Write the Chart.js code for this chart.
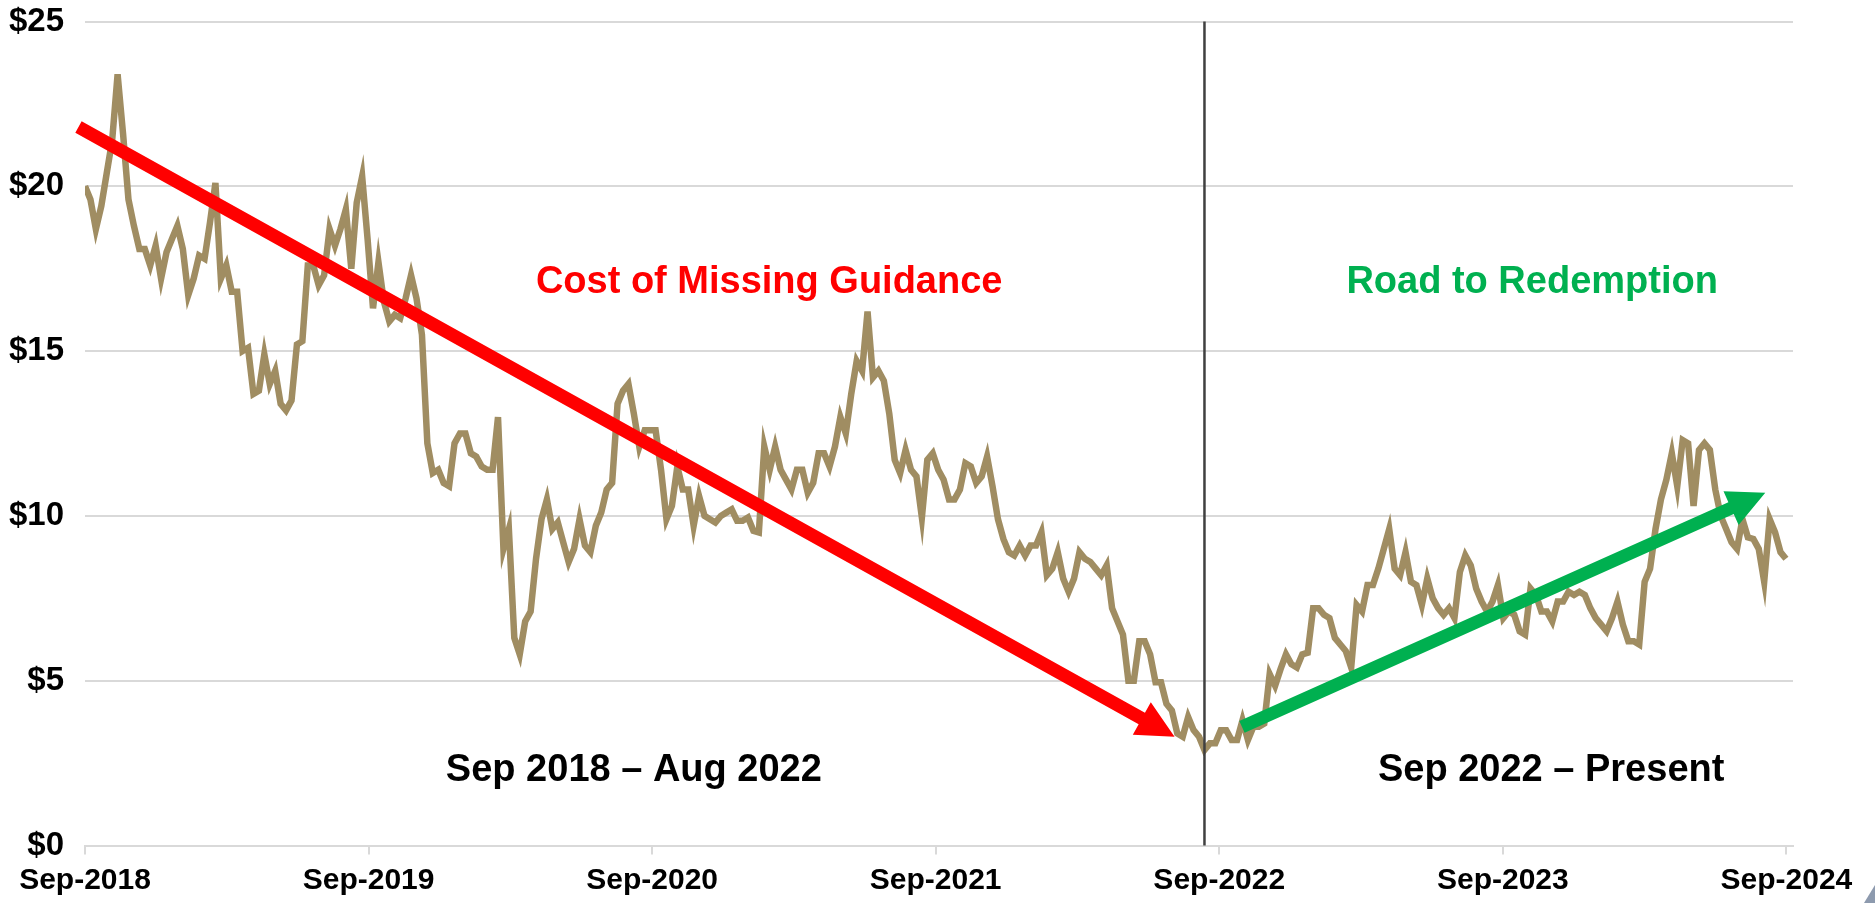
<!DOCTYPE html>
<html>
<head>
<meta charset="utf-8">
<title>Share price</title>
<script src="https://cdn.jsdelivr.net/npm/chart.js@4"></script>
<style>
  html, body { margin: 0; padding: 0; background: #fff; }
  #wrap { width: 1875px; height: 903px; }
</style>
</head>
<body>
<div id="wrap"><canvas id="priceChart" width="1875" height="903"></canvas></div>
<script>
// weekly share price, one value per week from Sep-2018 to Sep-2024
const prices = [
  20.0, 19.6, 18.7, 19.4, 20.4, 21.4, 23.4, 21.6, 19.6, 18.8,
  18.1, 18.1, 17.6, 18.2, 17.2, 18.0, 18.4, 18.8, 18.1, 16.7,
  17.2, 17.9, 17.8, 18.9, 20.1, 17.2, 17.6, 16.8, 16.8, 15.0,
  15.1, 13.7, 13.8, 14.9, 14.0, 14.4, 13.4, 13.2, 13.5, 15.2,
  15.3, 17.6, 17.6, 17.0, 17.3, 18.7, 18.2, 18.7, 19.3, 17.5,
  19.5, 20.3, 18.4, 16.3, 17.7, 16.5, 15.9, 16.1, 16.0, 16.6,
  17.3, 16.6, 15.5, 12.2, 11.3, 11.4, 11.0, 10.9, 12.2, 12.5,
  12.5, 11.9, 11.8, 11.5, 11.4, 11.4, 13.0, 9.0, 9.6, 6.3,
  5.8, 6.8, 7.1, 8.7, 9.9, 10.5, 9.6, 9.8, 9.2, 8.6,
  9.0, 9.9, 9.1, 8.9, 9.7, 10.1, 10.8, 11.0, 13.4, 13.8,
  14.0, 13.1, 12.1, 12.6, 12.6, 12.6, 11.4, 9.9, 10.3, 11.5,
  10.8, 10.8, 9.7, 10.6, 10.0, 9.9, 9.8, 10.0, 10.1, 10.2,
  9.85, 9.85, 9.95, 9.55, 9.5, 12.1, 11.4, 12.1, 11.4, 11.1,
  10.8, 11.4, 11.4, 10.7, 11.0, 11.9, 11.9, 11.5, 12.1, 13.0,
  12.5, 13.7, 14.7, 14.4, 16.2, 14.2, 14.4, 14.1, 13.1, 11.7,
  11.3, 12.0, 11.4, 11.2, 9.95, 11.7, 11.9, 11.4, 11.1, 10.5,
  10.5, 10.8, 11.6, 11.5, 11.0, 11.2, 11.8, 10.9, 9.9, 9.3,
  8.9, 8.8, 9.1, 8.8, 9.1, 9.1, 9.5, 8.2, 8.4, 8.9,
  8.1, 7.7, 8.1, 8.9, 8.7, 8.6, 8.4, 8.2, 8.5, 7.2,
  6.8, 6.4, 5.0, 5.0, 6.2, 6.2, 5.8, 4.95, 4.95, 4.3,
  4.1, 3.4, 3.3, 3.9, 3.5, 3.3, 2.9, 3.1, 3.1, 3.5,
  3.5, 3.2, 3.2, 3.8, 3.2, 3.6, 3.6, 3.7, 5.2, 4.85,
  5.35, 5.8, 5.5, 5.4, 5.8, 5.85, 7.2, 7.2, 7.0, 6.9,
  6.3, 6.1, 5.9, 5.4, 7.3, 7.1, 7.9, 7.9, 8.4, 9.0,
  9.6, 8.4, 8.2, 8.9, 8.0, 7.9, 7.3, 8.1, 7.5, 7.2,
  7.0, 7.2, 6.9, 8.3, 8.8, 8.5, 7.8, 7.4, 7.1, 7.4,
  7.9, 6.9, 7.1, 7.0, 6.5, 6.4, 7.8, 7.6, 7.1, 7.1,
  6.8, 7.4, 7.4, 7.7, 7.6, 7.7, 7.6, 7.2, 6.9, 6.7,
  6.5, 6.9, 7.4, 6.7, 6.2, 6.2, 6.1, 8.0, 8.4, 9.6,
  10.5, 11.1, 11.9, 10.9, 12.3, 12.2, 10.3, 12.0, 12.2, 12.0,
  10.8, 10.0, 9.6, 9.2, 9.0, 9.9, 9.35, 9.3, 9.0, 8.0,
  9.9, 9.5, 8.9, 8.7
];

const tickLabels = ['Sep-2018', 'Sep-2019', 'Sep-2020', 'Sep-2021', 'Sep-2022', 'Sep-2023', 'Sep-2024'];
const yTicks = [0, 5, 10, 15, 20, 25];
const weeksPerYear = 52.18;

// week where the two periods split (mid Aug 2022)
const dividerWeek = 206;

// trend arrows, [week, price]
const redArrow = { from: [-1.2, 21.8], to: [200.5, 3.3] };
const greenArrow = { from: [212.9, 3.6], to: [309.2, 10.7] };

// labels, [week, price]
const notes = [
  { text: 'Cost of Missing Guidance', at: [125.9, 17.07], color: '#FF0000' },
  { text: 'Road to Redemption', at: [266.3, 17.07], color: '#00B050' },
  { text: 'Sep 2018 \u2013 Aug 2022', at: [101.0, 2.26], color: '#000000' },
  { text: 'Sep 2022 \u2013 Present', at: [269.8, 2.26], color: '#000000' }
];

const FONT = "'Liberation Sans', Arial, sans-serif";

function drawArrow(ctx, x0, y0, x1, y1, color) {
    const dx = x1 - x0, dy = y1 - y0;
    const len = Math.sqrt(dx * dx + dy * dy);
    const ux = dx / len, uy = dy / len;
    const nx = -uy, ny = ux;
    const shaft = 6.5, headLen = 37.5, headHalf = 18.5;
    const bx = x1 - ux * headLen, by = y1 - uy * headLen;
    ctx.fillStyle = color;
    ctx.beginPath();
    ctx.moveTo(x0 + nx * shaft, y0 + ny * shaft);
    ctx.lineTo(bx + nx * shaft, by + ny * shaft);
    ctx.lineTo(bx + nx * headHalf, by + ny * headHalf);
    ctx.lineTo(x1, y1);
    ctx.lineTo(bx - nx * headHalf, by - ny * headHalf);
    ctx.lineTo(bx - nx * shaft, by - ny * shaft);
    ctx.lineTo(x0 - nx * shaft, y0 - ny * shaft);
    ctx.closePath();
    ctx.fill();
}

const overlay = {
    id: 'overlay',
    afterDatasetsDraw(chart) {
        const ctx = chart.ctx;
        const xs = chart.scales.x, ys = chart.scales.y;
        const area = chart.chartArea;
        ctx.save();

        // divider
        const dx = xs.getPixelForValue(dividerWeek);
        ctx.strokeStyle = '#404040';
        ctx.lineWidth = 2.5;
        ctx.beginPath();
        ctx.moveTo(dx, area.top);
        ctx.lineTo(dx, area.bottom);
        ctx.stroke();

        // arrows
        [[redArrow, '#FF0000'], [greenArrow, '#00B050']].forEach(([a, c]) => {
            drawArrow(ctx,
                xs.getPixelForValue(a.from[0]), ys.getPixelForValue(a.from[1]),
                xs.getPixelForValue(a.to[0]), ys.getPixelForValue(a.to[1]), c);
        });

        // text
        ctx.font = 'bold 38px ' + FONT;
        ctx.textAlign = 'center';
        ctx.textBaseline = 'middle';
        notes.forEach(n => {
            ctx.fillStyle = n.color;
            ctx.fillText(n.text, xs.getPixelForValue(n.at[0]), ys.getPixelForValue(n.at[1]));
        });

        // slide corner
        ctx.fillStyle = '#8D9AAE';
        ctx.beginPath();
        ctx.moveTo(1864, 903);
        ctx.lineTo(1875, 885);
        ctx.lineTo(1875, 903);
        ctx.closePath();
        ctx.fill();
        ctx.restore();
    }
};

const ctx = document.getElementById('priceChart').getContext('2d');
new Chart(ctx, {
    type: 'line',
    data: {
        datasets: [{
            data: prices.map((p, i) => ({ x: i, y: p })),
            borderColor: '#A08D62',
            borderWidth: 6.5,
            pointRadius: 0,
            tension: 0,
            fill: false
        }]
    },
    options: {
        responsive: false,
        animation: false,
        layout: { padding: { top: 0, right: 82, left: 0, bottom: 0 } },
        plugins: {
            legend: { display: false },
            tooltip: { enabled: false }
        },
        scales: {
            x: {
                type: 'linear',
                min: 0,
                max: 314.3,
                afterBuildTicks: s => { s.ticks = tickLabels.map((_, i) => ({ value: i * weeksPerYear })); },
                afterFit: s => { s.height = 57.5; },
                grid: { drawOnChartArea: false, drawTicks: true, tickLength: 9, color: '#D9D9D9', lineWidth: 2 },
                border: { color: '#D9D9D9', width: 2 },
                ticks: {
                    autoSkip: false,
                    maxRotation: 0,
                    padding: 8,
                    color: '#000',
                    font: { family: FONT, size: 30, weight: 'bold' },
                    callback: (v, i) => tickLabels[i]
                }
            },
            y: {
                min: 0,
                max: 25,
                afterBuildTicks: s => { s.ticks = yTicks.map(v => ({ value: v })); },
                afterFit: s => { s.width = 85; s.paddingTop = 21.5; },
                grid: { color: '#D9D9D9', lineWidth: 2, drawTicks: false },
                border: { display: false },
                ticks: {
                    padding: 21,
                    color: '#000',
                    font: { family: FONT, size: 33, weight: 'bold' },
                    callback: v => '$' + v
                }
            }
        }
    },
    plugins: [overlay]
});
</script>
</body>
</html>
